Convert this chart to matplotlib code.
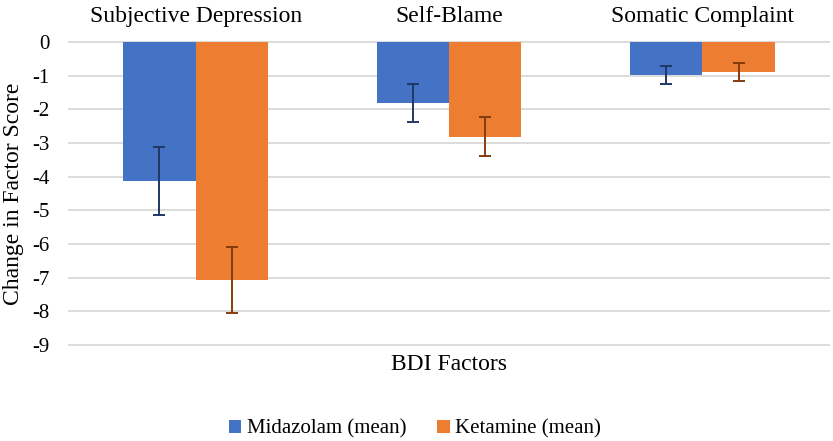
import matplotlib
matplotlib.use("Agg")
import matplotlib.pyplot as plt
import numpy as np

categories = ["Subjective Depression", "Self-Blame", "Somatic Complaint"]
midazolam = [-4.13, -1.82, -0.98]
midazolam_err = [1.0, 0.57, 0.27]
ketamine = [-7.08, -2.81, -0.89]
ketamine_err = [0.98, 0.57, 0.26]
yticks = [0, -1, -2, -3, -4, -5, -6, -7, -8, -9]

plt.rcParams['font.family'] = ['Liberation Serif', 'DejaVu Serif']

W, H = 833, 441
fig = plt.figure(figsize=(W/100, H/100), dpi=100)
ax = fig.add_axes([69/W, (H-345)/H, (829-69)/W, (345-42)/H])

x = np.arange(len(categories))
bw = 0.286
ax.bar(x - bw/2, midazolam, bw, color="#4472C4", label="Midazolam (mean)", zorder=2)
ax.bar(x + bw/2, ketamine, bw, color="#ED7D31", label="Ketamine (mean)", zorder=2)
ax.errorbar(x - bw/2, midazolam, yerr=midazolam_err, fmt="none", ecolor="#203864",
            elinewidth=1.4, capsize=4, capthick=1.4, zorder=3)
ax.errorbar(x + bw/2, ketamine, yerr=ketamine_err, fmt="none", ecolor="#843C0C",
            elinewidth=1.4, capsize=4, capthick=1.4, zorder=3)

ax.set_xlim(-0.5, len(categories) - 0.5)
ax.set_ylim(-9, 0)
ax.set_yticks(yticks)
ax.set_yticklabels([str(v) for v in yticks], fontsize=15)
for v in yticks:
    ax.axhline(v, color="#D9D9D9", lw=1.3, zorder=1, clip_on=False)

ax.xaxis.tick_top()
ax.set_xticks(x)
ax.set_xticklabels(categories, fontsize=17)
ax.tick_params(axis="both", length=0)
ax.tick_params(axis="x", pad=11)
ax.tick_params(axis="y", pad=14)
for s in ax.spines.values():
    s.set_visible(False)

fig.text(14/W, 1 - 194/H, "Change in Factor Score", rotation=90, ha="center", va="center", fontsize=17)
fig.text(449/W, 1 - 364/H, "BDI Factors", ha="center", va="center", fontsize=17)

ax.legend(loc="center", bbox_to_anchor=(415/W, 1 - 429/H), bbox_transform=fig.transFigure,
          ncol=2, frameon=False, fontsize=15, handlelength=0.6, handleheight=0.6,
          handletextpad=0.25, columnspacing=1.5, borderpad=0, borderaxespad=0)

fig.savefig("out.png", dpi=100)
